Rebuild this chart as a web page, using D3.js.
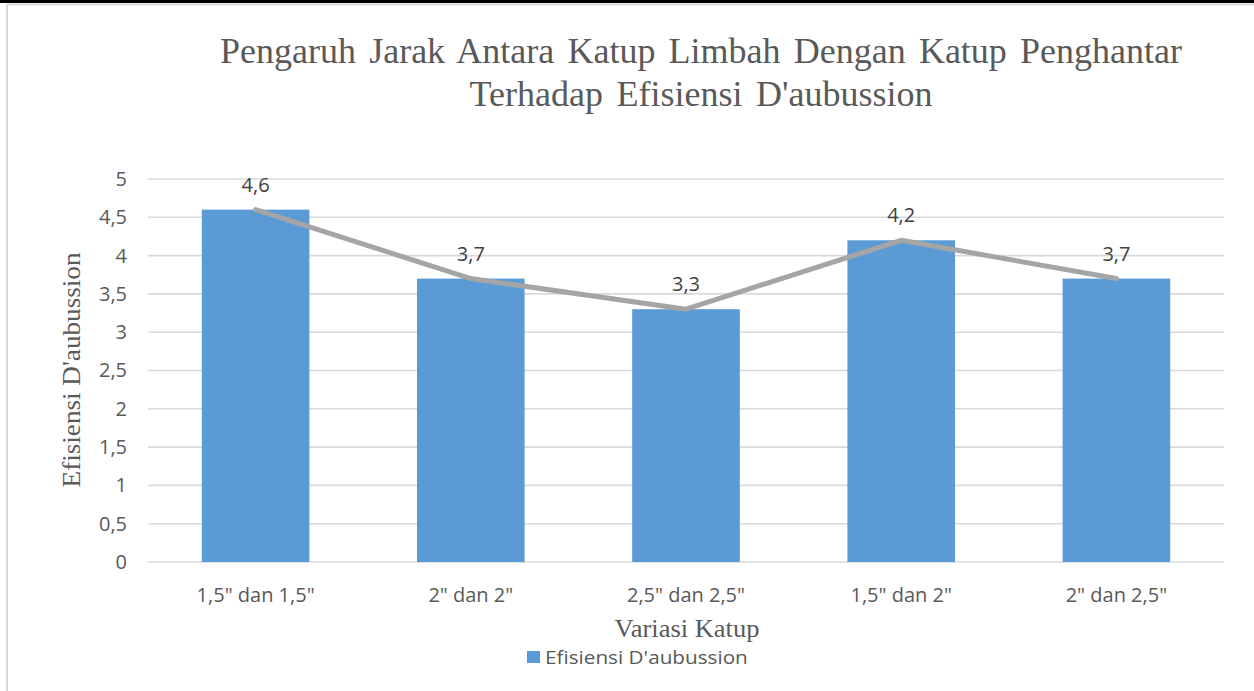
<!DOCTYPE html>
<html>
<head>
<meta charset="utf-8">
<script src="https://cdn.jsdelivr.net/npm/d3@7"></script>
<style>
  body { margin: 0; background: #fff; }
  svg { display: block; }
</style>
</head>
<body>
<div id="chart"></div>
<script>
var width = 1254;
var height = 691;

var categories = ["1,5\" dan 1,5\"", "2\" dan 2\"", "2,5\" dan 2,5\"", "1,5\" dan 2\"", "2\" dan 2,5\""];
var efisiensi = [4.6, 3.7, 3.3, 4.2, 3.7];
var yTicks = [0, 0.5, 1, 1.5, 2, 2.5, 3, 3.5, 4, 4.5, 5];

var titleLines = ["Pengaruh Jarak Antara Katup Limbah Dengan Katup Penghantar", "Terhadap Efisiensi D'aubussion"];
var serif = "'Liberation Serif', 'Times New Roman', serif";
var sans = "'Open Sans', 'Noto Sans', sans-serif";
var textColor = "#595959";

var svg = d3.select("#chart").append("svg")
    .attr("width", width).attr("height", height);

svg.append("rect").attr("width", width).attr("height", height).attr("fill", "#fff");

// frame
svg.append("rect").attr("x", 0).attr("y", 0).attr("width", width).attr("height", 3).attr("fill", "#000");
svg.append("line").attr("x1", 7).attr("y1", 4.5).attr("x2", width).attr("y2", 4.5)
    .style("stroke", "#d9d9d9").style("stroke-width", 2);
svg.append("line").attr("x1", 7).attr("y1", 4).attr("x2", 7).attr("y2", height)
    .style("stroke", "#d9d9d9").style("stroke-width", 2);

var plotLeft = 148, plotRight = 1224, plotTop = 179, plotBottom = 562;

var x = d3.scaleBand().domain(categories).range([plotLeft, plotRight]).paddingInner(0.5).paddingOuter(0.25);
var y = d3.scaleLinear().domain([0, 5]).range([plotBottom, plotTop]);

// spread the words of a text so it covers the wanted width
function fitWidth(sel, w) {
    var natural = sel.node().getComputedTextLength();
    var words = sel.text().split(" ").length - 1;
    if (words > 0 && natural < w) {
        sel.attr("word-spacing", (w - natural) / words);
    }
}

// stretch a text sideways (text drawn at 0,0 inside the given transform)
function stretch(sel, w, base) {
    var natural = sel.node().getComputedTextLength();
    sel.attr("transform", base + " scale(" + (w / natural) + ",1)");
}

// gridlines
svg.append("g").selectAll("line").data(yTicks).enter().append("line")
    .attr("x1", plotLeft).attr("x2", plotRight)
    .attr("y1", function(d) { return y(d); })
    .attr("y2", function(d) { return y(d); })
    .style("stroke", "#d9d9d9").style("stroke-width", 1.6);

// y axis labels
var yAxis = d3.axisLeft(y).tickValues(yTicks).tickSize(0).tickPadding(0)
    .tickFormat(function(d) { return String(d).replace(".", ","); });
var gy = svg.append("g").attr("transform", "translate(" + 127 + ",0)").call(yAxis);
gy.select(".domain").remove();
gy.selectAll("text").style("font-family", sans).style("font-size", "20px").attr("fill", textColor);

// x axis labels
var xAxis = d3.axisBottom(x).tickSize(0).tickPadding(0);
var gx = svg.append("g").attr("transform", "translate(0," + 588 + ")").call(xAxis);
gx.select(".domain").remove();
gx.selectAll("text").style("font-family", sans).style("font-size", "20px").attr("fill", textColor);

// bars
svg.append("g").selectAll("rect").data(efisiensi).enter().append("rect")
    .attr("x", function(d, i) { return x(categories[i]); })
    .attr("width", x.bandwidth())
    .attr("y", function(d) { return y(d); })
    .attr("height", function(d) { return y(0) - y(d); })
    .attr("fill", "#5b9bd5");

// line
var line = d3.line()
    .x(function(d, i) { return x(categories[i]) + x.bandwidth() / 2; })
    .y(function(d) { return y(d); });
svg.append("path").datum(efisiensi)
    .attr("d", line)
    .attr("fill", "none")
    .style("stroke", "#a5a5a5")
    .style("stroke-width", 5)
    .style("stroke-linecap", "round")
    .style("stroke-linejoin", "round");

// data labels
svg.append("g").selectAll("text").data(efisiensi).enter().append("text")
    .attr("x", function(d, i) { return x(categories[i]) + x.bandwidth() / 2; })
    .attr("y", function(d) { return y(d) - 18; })
    .attr("text-anchor", "middle")
    .style("font-family", sans).style("font-size", "20px")
    .attr("fill", "#404040")
    .text(function(d) { return String(d).replace(".", ","); });

// title
var t1 = svg.append("text").attr("x", 220).attr("y", 63)
    .style("font-family", serif).style("font-size", "36px").attr("fill", textColor)
    .text(titleLines[0]);
fitWidth(t1, 962);
var t2 = svg.append("text").attr("x", 701).attr("y", 106)
    .attr("text-anchor", "middle")
    .style("font-family", serif).style("font-size", "36px").attr("fill", textColor)
    .text(titleLines[1]);
fitWidth(t2, 463);

// axis titles
var yt = svg.append("text")
    .attr("text-anchor", "middle")
    .style("font-family", serif).style("font-size", "25px").attr("fill", textColor)
    .text("Efisiensi D'aubussion");
stretch(yt, 235, "translate(80,370) rotate(-90)");
var xt = svg.append("text")
    .attr("text-anchor", "middle")
    .style("font-family", serif).style("font-size", "25px").attr("fill", textColor)
    .text("Variasi Katup");
stretch(xt, 145, "translate(687,637)");

// legend
svg.append("rect").attr("x", 527).attr("y", 651).attr("width", 13).attr("height", 12).attr("fill", "#5b9bd5");
var lt = svg.append("text")
    .style("font-family", sans).style("font-size", "18px").attr("fill", textColor)
    .text("Efisiensi D'aubussion");
stretch(lt, 203, "translate(545,664)");
</script>
</body>
</html>
